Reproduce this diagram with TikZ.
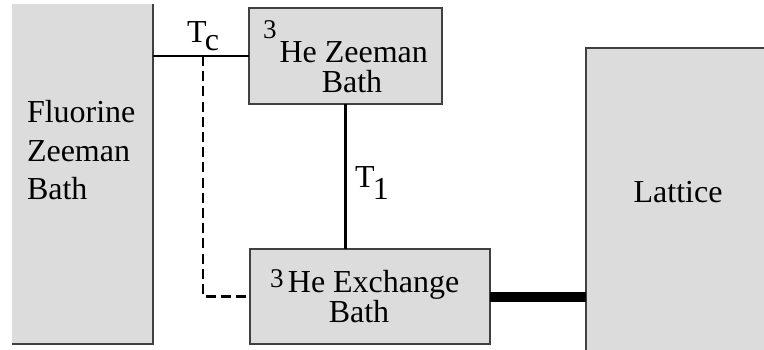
\documentclass[tikz,border=0pt]{standalone}
\usepackage{fontspec}
\setmainfont{Liberation Serif}
\begin{document}
\begin{tikzpicture}[x=0.5pt,y=-0.5pt,
  bath/.style={rectangle, fill=bathgray, draw=black!75, line width=0.6pt,
    inner sep=0pt, outer sep=0pt},
  txt/.style={inner sep=0pt, outer sep=0pt, font=\fontsize{16}{19}\selectfont},
  sup/.style={},
  link/.style={line width=1.2pt},
  weak/.style={line width=1.2pt, dash pattern=on 5pt off 2.6pt},
  strong/.style={line width=5pt}]
\definecolor{bathgray}{HTML}{DCDCDC}
\useasboundingbox (0,0) rectangle (764,349);

% heat reservoirs
\node[bath, draw=none, minimum width=70.5pt, minimum height=170pt] (fluor) at (82.5,174) {};
\draw[black!75, line width=0.6pt] (fluor.north east) -- (fluor.south east) -- (fluor.south west);
\node[bath, minimum width=96.5pt, minimum height=48pt] (zee) at (345.5,56) {};
\node[bath, minimum width=120pt, minimum height=47.5pt] (exch) at (370,296.5) {};
\node[bath, minimum width=92pt, minimum height=155pt] (lat) at (678,203) {};

% labels
\node[txt, anchor=base west] (fl1) at (27,122) {Fluorine};
\node[txt, anchor=base west] (fl2) at (27,161) {Zeeman};
\node[txt, anchor=base west] (fl3) at (27,199) {Bath};
\node[txt, anchor=base west] (ze1) at (263,62)
  {\raisebox{12pt}{\fontsize{13.5}{13.5}\selectfont 3}\hspace{1.5pt}He Zeeman};
\node[txt, anchor=base] (ze2) at (352,92) {Bath};
\node[txt, anchor=base west] (ex1) at (270,292)
  {\raisebox{2.5pt}{\fontsize{13.5}{13.5}\selectfont 3}\hspace{2.2pt}He Exchange};
\node[txt, anchor=base] (ex2) at (359,322) {Bath};
\node[txt, anchor=base] (la) at (678,202) {Lattice};
\node[txt, anchor=base west] (tc) at (187,42) {T\kern-0.8pt\raisebox{-4pt}{c}};
\node[txt, anchor=base west] (t1) at (355,187) {T\kern-0.8pt\raisebox{-6pt}{1}};

% couplings
\coordinate (tap) at (203,56);
\draw[link] (fluor.east |- zee.west) -- (zee.west);
\draw[weak] (tap) |- (exch.west);
\draw[link] (zee.south) -- (zee.south |- exch.north);
\draw[strong] (exch.east) -- (exch.east -| lat.west);
\end{tikzpicture}
\end{document}
